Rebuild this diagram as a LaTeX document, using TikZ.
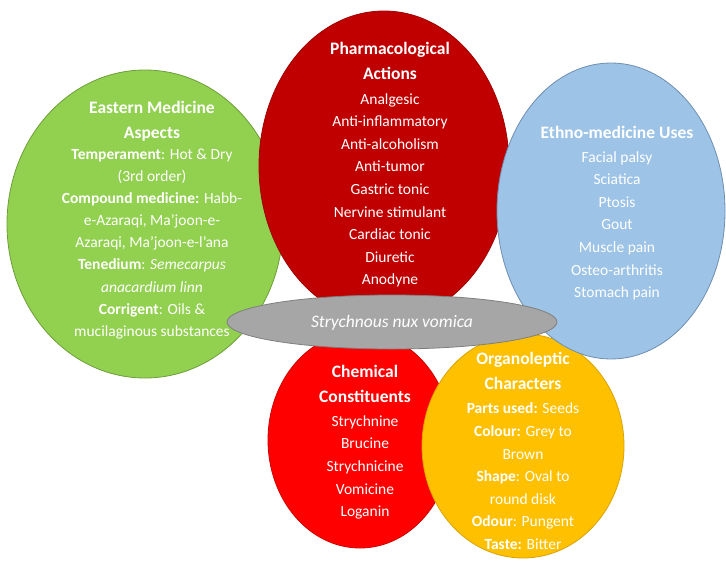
\documentclass[tikz,border=0pt]{standalone}
\usepackage{fontspec}
\setmainfont{Carlito}
\usetikzlibrary{shapes.geometric}
\definecolor{cgreen}{HTML}{92D050}
\definecolor{cgreenb}{HTML}{6E9E3A}
\definecolor{cred}{HTML}{C00000}
\definecolor{credb}{HTML}{A00000}
\definecolor{cblue}{HTML}{9DC3E6}
\definecolor{cblueb}{HTML}{6F8FB0}
\definecolor{cgray}{HTML}{A6A6A6}
\definecolor{cgrayb}{HTML}{7F7F7F}
\definecolor{cchem}{HTML}{FF0000}
\definecolor{cchemb}{HTML}{D00000}
\definecolor{corange}{HTML}{FFC000}
\definecolor{corangeb}{HTML}{D9A300}
\newcommand{\ttl}[1]{{\fontsize{17.5}{25}\selectfont\bfseries #1}}
\begin{document}
\begin{tikzpicture}[x=1pt,y=-1pt,
  bubble/.style={ellipse, inner sep=0pt, line width=0.8pt},
  txt/.style={text=white, align=center, inner sep=0pt, font=\fontsize{15.5}{22.6}\selectfont}]
\useasboundingbox (0,0) rectangle (726,560);
\fill[white] (0,0) rectangle (726,560);
% ellipses
\node[bubble, fill=cgreen, draw=cgreenb, minimum width=276pt, minimum height=308pt] (eastern) at (145,224) {};
\node[bubble, fill=cred, draw=credb, minimum width=250pt, minimum height=310pt] (pharm) at (384,166) {};
\node[bubble, fill=cchem, draw=cchemb, minimum width=184pt, minimum height=216pt] (chem) at (360,440) {};
\node[bubble, fill=corange, draw=corangeb, minimum width=202pt, minimum height=224pt] (organo) at (523,446) {};
\node[bubble, fill=cblue, draw=cblueb, minimum width=228pt, minimum height=296pt] (ethno) at (611,211) {};
\node[bubble, fill=cgray, draw=cgrayb, minimum width=330pt, minimum height=54pt] (center) at (392,322) {};
% texts
\node[txt, font=\fontsize{15.5}{22.1}\selectfont] (easterntxt) at (152,220) {\ttl{Eastern Medicine}\\[2.9pt]\ttl{Aspects}\\[-1pt]
\textbf{Temperament}: Hot \& Dry\\
(3rd order)\\
\textbf{Compound medicine:} Habb-\\
e-Azaraqi, Ma’joon-e-\\
Azaraqi, Ma’joon-e-l’ana\\
\textbf{Tenedium}: \textit{Semecarpus}\\
\textit{anacardium linn}\\
\textbf{Corrigent}: Oils \&\\
mucilaginous substances};
\node[txt] (pharmtxt) at (390,165) {\ttl{Pharmacological}\\[2.4pt]\ttl{Actions}\\[1.5pt]
Analgesic\\ Anti-inflammatory\\ Anti-alcoholism\\ Anti-tumor\\ Gastric tonic\\ Nervine stimulant\\ Cardiac tonic\\ Diuretic\\ Anodyne};
\node[txt] (ethnotxt) at (617,213) {\ttl{Ethno-medicine Uses}\\[1.4pt]
Facial palsy\\ Sciatica\\ Ptosis\\ Gout\\ Muscle pain\\ Osteo-arthritis\\ Stomach pain};
\node[txt, font=\fontsize{17.5}{20}\selectfont\itshape] (centertxt) at (392,323) {Strychnous nux vomica};
\node[txt] (chemtxt) at (365,442) {\ttl{Chemical}\\[2.5pt]\ttl{Constituents}\\[1.5pt]
Strychnine\\ Brucine\\ Strychnicine\\ Vomicine\\ Loganin};
\node[txt] (organotxt) at (523,451) {\ttl{Organoleptic}\\[2.5pt]\ttl{Characters}\\[1.5pt]
\textbf{Parts used:} Seeds\\
\textbf{Colour:} Grey to\\
Brown\\
\textbf{Shape}: Oval to\\
round disk\\
\textbf{Odour}: Pungent\\
\textbf{Taste:} Bitter};
\end{tikzpicture}
\end{document}
